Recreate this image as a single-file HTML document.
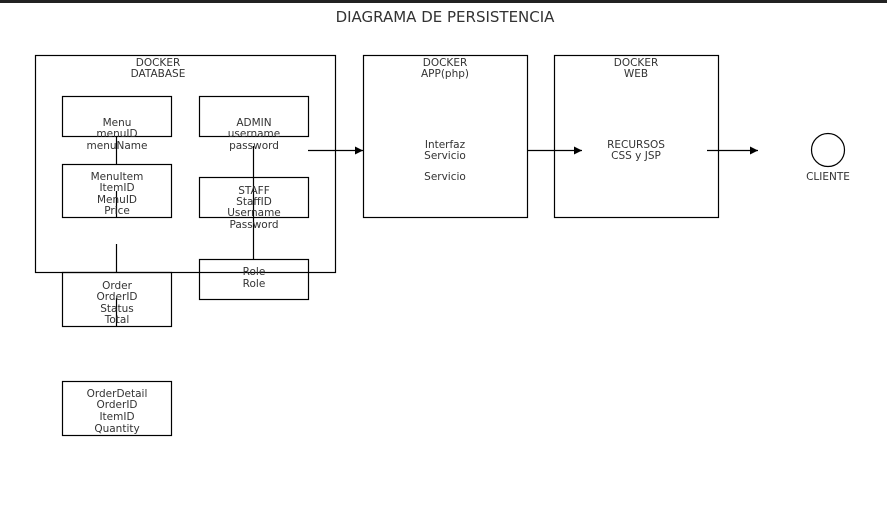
<!DOCTYPE html>
<html><head><style>body{margin:0;background:#fff}svg{display:block}text{font-family:"DejaVu Sans","Liberation Sans",sans-serif;fill:#333;font-size:10.5px;text-anchor:middle}</style></head><body>
<svg width="887" height="520" xmlns="http://www.w3.org/2000/svg">
<defs><marker id="a" markerUnits="userSpaceOnUse" markerWidth="9" markerHeight="8" refX="8" refY="4" orient="auto"><path d="M0,0L8,4L0,8z" fill="#000"/></marker></defs>
<rect x="0" y="0" width="887" height="3" fill="#222"/>
<text x="445" y="22" style="font-size:15px">DIAGRAMA DE PERSISTENCIA</text>
<g fill="none" stroke="#000" stroke-width="1.2">
<rect x="35.5" y="55.5" width="300" height="217"/>
<rect x="62.5" y="96.5" width="109" height="40"/>
<rect x="199.5" y="96.5" width="109" height="40"/>
<rect x="62.5" y="164.5" width="109" height="53"/>
<rect x="199.5" y="177.5" width="109" height="40"/>
<rect x="199.5" y="259.5" width="109" height="40"/>
<rect x="62.5" y="272.5" width="109" height="54"/>
<rect x="62.5" y="381.5" width="109" height="54"/>
<rect x="363.5" y="55.5" width="164" height="162"/>
<rect x="554.5" y="55.5" width="164" height="162"/>
<circle cx="828" cy="150" r="16.5"/>
<path d="M116.5 136V164M116.5 191V217M116.5 244V272M116.5 298V326M253.5 146V259"/>
<path d="M308 150.5H363" marker-end="url(#a)"/>
<path d="M528 150.5H582" marker-end="url(#a)"/>
<path d="M707 150.5H758" marker-end="url(#a)"/>
</g>
<text x="158" y="66">DOCKER</text><text x="158" y="77">DATABASE</text>
<text x="117" y="126">Menu</text><text x="117" y="137">menuID</text><text x="117" y="149">menuName</text>
<text x="254" y="126">ADMIN</text><text x="254" y="137">username</text><text x="254" y="149">password</text>
<text x="117" y="180">MenuItem</text><text x="117" y="191">ItemID</text><text x="117" y="203">MenuID</text><text x="117" y="214">Price</text>
<text x="254" y="194">STAFF</text><text x="254" y="205">StaffID</text><text x="254" y="216">Username</text><text x="254" y="228">Password</text>
<text x="254" y="275">Role</text><text x="254" y="287">Role</text>
<text x="117" y="289">Order</text><text x="117" y="300">OrderID</text><text x="117" y="312">Status</text><text x="117" y="323">Total</text>
<text x="117" y="397">OrderDetail</text><text x="117" y="408">OrderID</text><text x="117" y="420">ItemID</text><text x="117" y="432">Quantity</text>
<text x="445" y="66">DOCKER</text><text x="445" y="77">APP(php)</text>
<text x="445" y="148">Interfaz</text><text x="445" y="159">Servicio</text><text x="445" y="180">Servicio</text>
<text x="636" y="66">DOCKER</text><text x="636" y="77">WEB</text>
<text x="636" y="148">RECURSOS</text><text x="636" y="159">CSS y JSP</text>
<text x="828" y="180">CLIENTE</text>
</svg></body></html>
